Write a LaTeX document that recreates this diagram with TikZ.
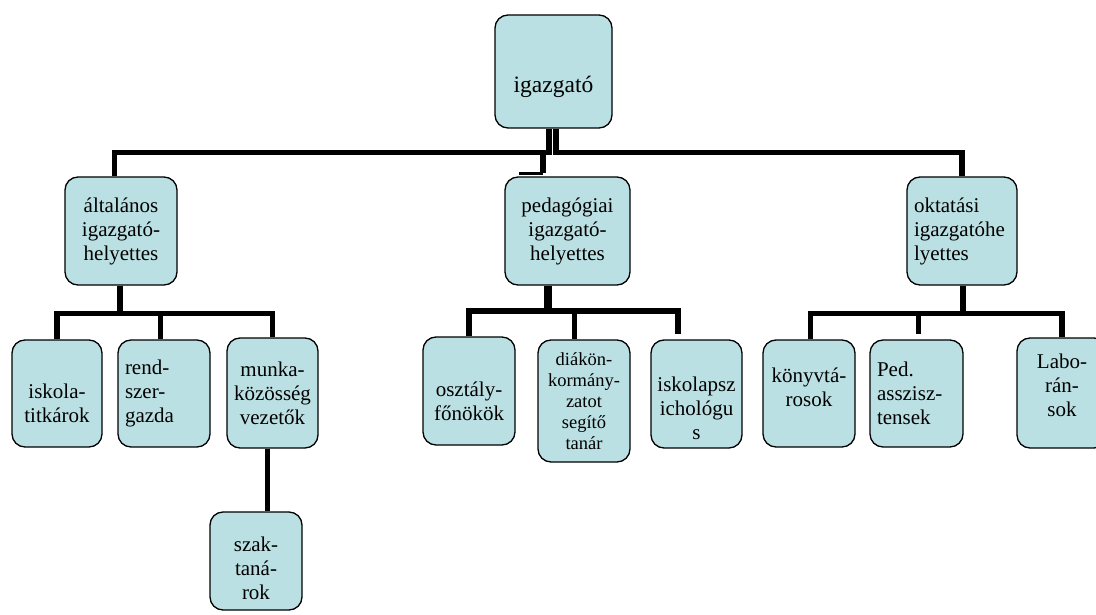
\documentclass[tikz,border=0pt]{standalone}
\usepackage{fontspec}
\setmainfont{Liberation Serif}
\usepackage{tikz}
\usetikzlibrary{positioning, calc}
\definecolor{orgfill}{RGB}{187, 224, 227}

\begin{document}
\begin{tikzpicture}[x=1pt, y=-1pt,
    unit/.style={draw=black, line width=1.3pt, fill=orgfill, rounded corners=13pt,
        inner xsep=4pt, inner ysep=0pt, align=center, font=\fontsize{21}{24}\selectfont},
    leftunit/.style={unit, align=left, inner xsep=7pt},
    link/.style={line width=5.5pt, color=black}]
    \useasboundingbox (0,0) rectangle (1096,615);

    % director
    \node[unit, minimum width=117pt, minimum height=113pt, font=\fontsize{23.5}{27}\selectfont] (igaz) at (553.5,71.5) {{}\\[21pt]igazgató};

    % deputies
    \node[unit, minimum width=112pt, minimum height=108pt] (alt) at (121,231) {általános\\igazgató-\\helyettes};
    \node[unit, minimum width=125pt, minimum height=108pt] (ped) at (567.5,231) {pedagógiai\\igazgató-\\helyettes};
    \node[leftunit, text width=96pt, minimum height=108pt] (okt) at (962,231) {oktatási\\igazgatóhe\\lyettes};

    % staff
    \node[unit, minimum width=90pt, minimum height=107pt] (isk) at (57,393.5) {{}\\[10.5pt]iskola-\\titkárok};
    \node[leftunit, text width=78pt, minimum height=107pt] (rend) at (164,393.5) {rend-\\szer-\\gazda};
    \node[unit, minimum width=91pt, minimum height=110pt] (munka) at (272.5,393) {munka-\\közösség\\vezetők};
    \node[unit, minimum width=92pt, minimum height=98pt] (szak) at (256,561) {{}\\[6pt]szak-\\taná-\\rok};
    \node[unit, minimum width=92pt, minimum height=108pt] (oszt) at (469,391) {{}\\[10.5pt]osztály-\\főnökök};
    \node[unit, minimum width=92pt, minimum height=122pt, font=\fontsize{18.5}{21}\selectfont] (diak) at (584,401) {diákön-\\kormány-\\zatot\\segítő\\tanár};
    \node[unit, minimum width=91pt, minimum height=108pt] (pszich) at (696.5,394) {{}\\[20pt]iskolapsz\\ichológu\\s};
    \node[unit, minimum width=92pt, minimum height=107pt] (konyv) at (809,393.5) {könyvtá-\\rosok\\[-12pt]{}};
    \node[leftunit, text width=79pt, minimum height=107pt] (pedassz) at (916.5,393.5) {Ped.\\asszisz-\\tensek};
    \node[unit, minimum width=90pt, minimum height=110pt] (labo) at (1062,393) {Labo-\\rán-\\sok\\[-8pt]{}};

    % first level
    \draw[link] ([xshift=-4.5pt]igaz.south) -- ++(0,24) -| ([xshift=-6.5pt]alt.north);
    \draw[link] ([xshift=2.5pt]igaz.south) -- ++(0,24) -| (okt.north);
    \draw[link] ([xshift=-4.5pt]igaz.south) -- ++(0,24) -| ([xshift=-24.5pt,yshift=3pt]ped.north);
    \draw[link, line width=3pt] ([xshift=-24.5pt,yshift=3pt]ped.north) -- ++(-24,0);

    % under altalanos
    \draw[link] ([xshift=-1pt]alt.south) -- ++(0,28) -| (isk.north);
    \draw[link] ([xshift=-1pt]alt.south) -- ++(0,28) -| ([xshift=-3.5pt]rend.north);
    \draw[link] ([xshift=-1pt]alt.south) -- ++(0,28) -| (munka.north);
    \draw[link] ([xshift=-5pt]munka.south) -- ([xshift=-5pt]munka.south |- szak.north);

    % under pedagogiai
    \draw[link] ([xshift=-19.5pt]ped.south) -- ++(0,25.5) -| (oszt.north);
    \draw[link] ([xshift=-19.5pt]ped.south) -- ++(0,25.5) -| ([xshift=-9.5pt]diak.north);
    \draw[link] ([xshift=-19.5pt]ped.south) -- ++(0,25.5) -| ([xshift=-18.5pt,yshift=5pt]pszich.north);
    \draw[link, line width=8pt] ([xshift=-19.5pt]ped.south) -- ++(0,25.5);

    % under oktatasi
    \draw[link] ([xshift=1pt]okt.south) -- ++(0,28) -| ([xshift=1.5pt]konyv.north);
    \draw[link] ([xshift=1pt]okt.south) -- ++(0,28) -| ([xshift=2pt,yshift=5pt]pedassz.north);
    \draw[link] ([xshift=1pt]okt.south) -- ++(0,28) -| (labo.north);
\end{tikzpicture}
\end{document}
